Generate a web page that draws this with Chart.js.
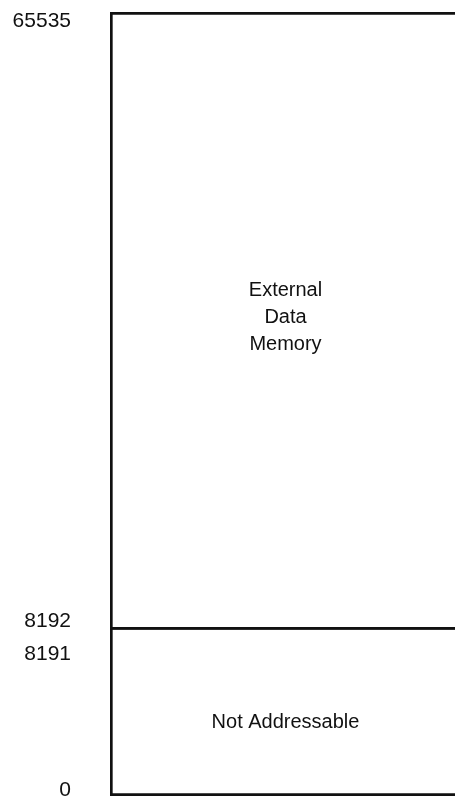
<!DOCTYPE html>
<html>
<head>
<meta charset="utf-8">
<script src="https://cdn.jsdelivr.net/npm/chart.js@4"></script>
<style>
  html, body { margin: 0; padding: 0; background: #fff; }
  #wrap { width: 455px; height: 799px; }
</style>
</head>
<body>
<div id="wrap"><canvas id="memChart"></canvas></div>
<script>
// memory regions (first and last address of each)
const regionNames = [['Not Addressable'], ['External', 'Data', 'Memory']];
const regionStart = [0, 8192];
const regionEnd = [8191, 65535];
// addresses written on the left
const tickValues = [0, 8191, 8192, 65535];

// the drawing is not to scale: the lower region gets this share of the height
const lowerShare = 0.212;
const splitAt = regionStart[1];
// small vertical nudges so the labels sit where the original put them
const labelNudge = { 0: -6, 8191: 24, 8192: -9, 65535: 9 };
const regionNudge = [10, -3];

class MemoryScale extends Chart.LinearScale {
    getPixelForValue(value) {
        let t;
        if (value <= splitAt) {
            t = (value - this.min) / (splitAt - this.min) * lowerShare;
        } else {
            t = lowerShare + (value - splitAt) / (this.max - splitAt) * (1 - lowerShare);
        }
        return this.getPixelForDecimal(t);
    }
    getValueForPixel(pixel) {
        const t = this.getDecimalForPixel(pixel);
        if (t <= lowerShare) {
            return this.min + t / lowerShare * (splitAt - this.min);
        }
        return splitAt + (t - lowerShare) / (1 - lowerShare) * (this.max - splitAt);
    }
    getPixelForTick(index) {
        const v = this.ticks[index].value;
        return this.getPixelForValue(v) + (labelNudge[v] || 0);
    }
}
MemoryScale.id = 'memory';
MemoryScale.defaults = Chart.LinearScale.defaults;
Chart.register(MemoryScale);

const regionLabels = {
    id: 'regionLabels',
    afterDatasetsDraw(chart) {
        const ctx = chart.ctx;
        ctx.save();
        ctx.fillStyle = '#111';
        ctx.font = '20px "Liberation Sans", Arial, sans-serif';
        ctx.textAlign = 'center';
        ctx.textBaseline = 'middle';
        const lineH = 27;
        chart.data.datasets.forEach((ds, i) => {
            const bar = chart.getDatasetMeta(i).data[0];
            const lines = regionNames[i];
            const cy = (bar.y + bar.base) / 2 + regionNudge[i];
            lines.forEach((txt, j) => {
                ctx.fillText(txt, bar.x + 3, cy + (j - (lines.length - 1) / 2) * lineH);
            });
        });
        ctx.restore();
    }
};

const ctx = document.getElementById('memChart');

new Chart(ctx, {
    type: 'bar',
    data: {
        labels: [''],
        datasets: [
            {
                label: regionNames[0].join(' '),
                data: [[regionStart[0], regionEnd[0] + 1]],
                backgroundColor: '#fff',
                borderColor: '#111',
                borderWidth: { top: 0, left: 3, bottom: 3, right: 0 }
            },
            {
                label: regionNames[1].join(' '),
                data: [[regionStart[1], regionEnd[1] + 1]],
                backgroundColor: '#fff',
                borderColor: '#111',
                borderWidth: { top: 3, left: 3, bottom: 3, right: 0 }
            }
        ]
    },
    options: {
        responsive: true,
        maintainAspectRatio: false,
        animation: false,
        layout: {
            padding: { top: 12, bottom: 3, left: 0, right: 0 }
        },
        datasets: {
            bar: {
                grouped: false,
                barPercentage: 1,
                categoryPercentage: 1,
                borderSkipped: false
            }
        },
        plugins: {
            legend: { display: false },
            tooltip: { enabled: false }
        },
        scales: {
            x: {
                display: false
            },
            y: {
                type: 'memory',
                min: 0,
                max: regionEnd[1] + 1,
                bounds: 'data',
                grid: { display: false, drawTicks: false },
                border: { display: false },
                afterBuildTicks: (scale) => {
                    scale.ticks = tickValues.map(v => ({ value: v }));
                },
                afterFit: (scale) => {
                    scale.width = 110;
                    scale.paddingTop = 0;
                    scale.paddingBottom = 0;
                },
                ticks: {
                    padding: 39,
                    color: '#111',
                    font: { family: '"Liberation Sans", Arial, sans-serif', size: 21 },
                    callback: (value) => String(value)
                }
            }
        }
    },
    plugins: [regionLabels]
});
</script>
</body>
</html>
